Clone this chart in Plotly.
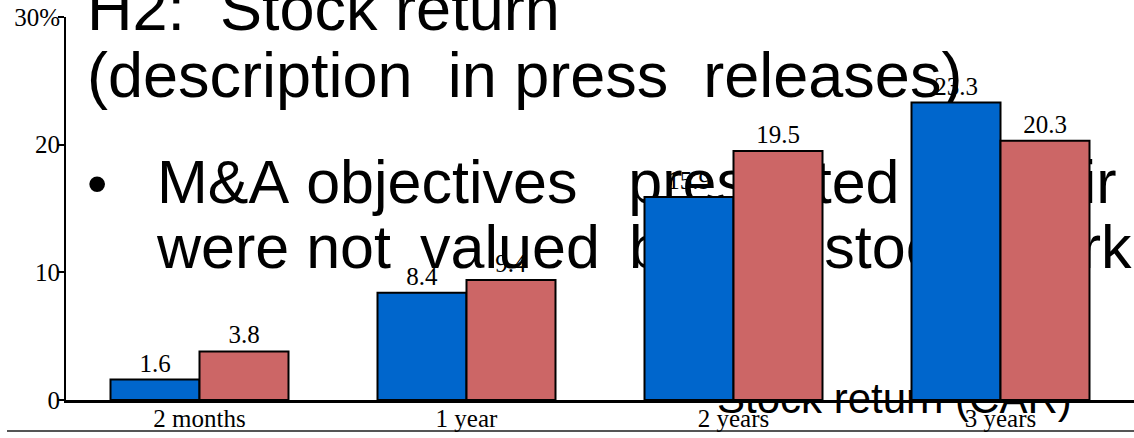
import plotly.graph_objects as go

categories = ["2 months", "1 year", "2 years", "3 years"]
series_a = [1.6, 8.4, 15.9, 23.3]
series_b = [3.8, 9.4, 19.5, 20.3]
ytick_vals = [0, 10, 20, 30]
ytick_text = ["0", "10", "20", "30%"]

W, H = 1134, 438
ML, MR, MT, MB = 66, 0, 17, 38
PW = W - ML - MR
PH = H - MT - MB

SERIF = "Liberation Serif, Times New Roman, serif"
SANS = "Liberation Sans, Arial, sans-serif"

fig = go.Figure()
fig.add_trace(go.Bar(
    x=categories, y=series_a, name="A",
    marker=dict(color="#0066CC", line=dict(color="black", width=2)),
    texttemplate="%{y:.1f}", textposition="outside",
    textfont=dict(family=SERIF, size=25, color="black"),
    cliponaxis=False,
))
fig.add_trace(go.Bar(
    x=categories, y=series_b, name="B",
    marker=dict(color="#CC6666", line=dict(color="black", width=2)),
    texttemplate="%{y:.1f}", textposition="outside",
    textfont=dict(family=SERIF, size=25, color="black"),
    cliponaxis=False,
))

def px_x(x):
    return (x - ML) / PW

def px_y(y):
    return (H - MB - y) / PH

NB = "\u00a0"
TH = "\u2009"
# overlay slide text drawn below the bars: (text, left px, baseline px, font size)
overlay = [
    ("H2:" + NB * 2 + "Stock" + NB + "return", 84, 31, 63),
    ("(description" + NB * 2 + "in" + NB + "press" + NB * 2 + "releases)", 84, 98, 63),
    ("\u2022", 84, 204, 58),
    ("M&A" + NB + "objectives" + NB * 3 + "presented" + NB * 2 + "in" + NB + "their" + NB + "press" + NB + "releases", 154, 204, 61),
    ("were" + NB + "not" + NB + TH + "valued" + NB + TH + "by" + NB + "the" + NB + TH + "stock" + NB + TH + "market", 154, 269, 61),
    ("Stock" + NB + "return" + NB + "(CAR)", 714, 414, 42),
]

shapes = []
for txt, lx, base, fs in overlay:
    cy = base - 0.46 * fs
    shapes.append(dict(
        type="rect", xref="paper", yref="paper",
        x0=px_x(lx), x1=px_x(lx + 10), y0=px_y(cy + 5), y1=px_y(cy - 5),
        line=dict(width=0), fillcolor="rgba(0,0,0,0)", layer="below",
        label=dict(text=txt, textposition="middle left", xanchor="left", yanchor="middle",
                   padding=0, font=dict(family=SANS, size=fs, color="black")),
    ))

shapes.append(dict(
    type="line", xref="paper", yref="paper",
    x0=px_x(7), x1=px_x(1134), y0=px_y(431), y1=px_y(431),
    line=dict(color="#555555", width=2), layer="below",
))

fig.update_layout(
    width=W, height=H,
    margin=dict(l=ML, r=MR, t=MT, b=MB, pad=0, autoexpand=False),
    paper_bgcolor="white", plot_bgcolor="rgba(0,0,0,0)",
    barmode="group", bargap=1/3, bargroupgap=0,
    showlegend=False,
    shapes=shapes,
    xaxis=dict(
        automargin=False,
        showline=True, linecolor="black", linewidth=3,
        showgrid=False, zeroline=False, ticks="",
        tickfont=dict(family=SERIF, size=25, color="black"),
        ticklabelstandoff=-6,
        range=[-0.5, 3.5],
    ),
    yaxis=dict(
        automargin=False,
        range=[0, 30], tickvals=ytick_vals, ticktext=ytick_text,
        showline=True, linecolor="black", linewidth=2,
        ticks="outside", ticklen=6, tickwidth=2, tickcolor="black",
        showgrid=False, zeroline=False,
        ticklabelstandoff=-7,
        tickfont=dict(family=SERIF, size=25, color="black"),
    ),
)

fig.write_html(
    "out.html",
    config={"displayModeBar": False},
    post_script="document.body.style.margin='0';document.body.style.overflow='hidden';",
)
